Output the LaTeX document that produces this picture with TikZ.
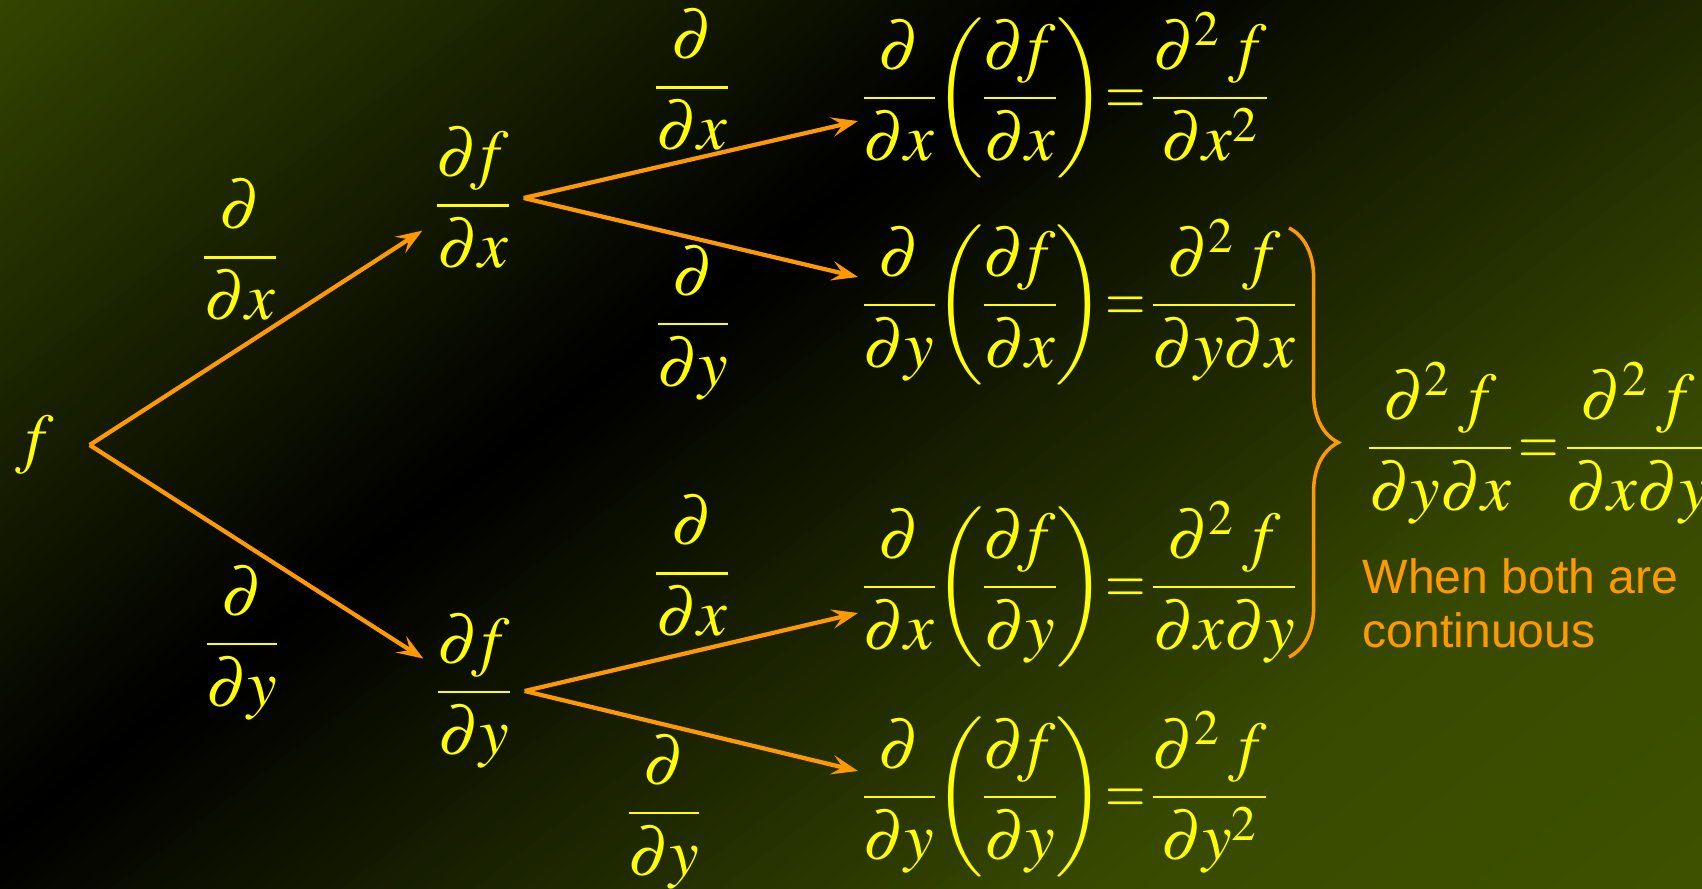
\documentclass[tikz,border=0pt]{standalone}
\usepackage{amsmath}
\usepackage{mathptmx}
\usepackage[no-math]{fontspec}
\newfontfamily\arialfont{Liberation Sans}
\usetikzlibrary{positioning,calc}
\usetikzlibrary{arrows.meta,decorations.pathreplacing}
\definecolor{EqYellow}{RGB}{255,255,0}
\definecolor{ArrOrange}{RGB}{255,153,0}
\definecolor{BgTop}{RGB}{52,70,0}
\definecolor{BgMid}{RGB}{56,74,0}
\definecolor{BgBottom}{RGB}{62,82,0}
\newcommand{\eqsetup}{\nulldelimiterspace=0pt\relax\thickmuskip=2mu\relax}
\newcommand{\eqs}{\mathrel{\scalebox{0.78}[1]{$=$}}}
\newcommand{\pdd}[1]{\dfrac{\partial}{\partial #1}}
\newcommand{\pdf}[1]{\dfrac{\partial\! f}{\partial #1}}
\newcommand{\pdtwo}[1]{\dfrac{\partial^2\mkern2mu f}{#1}}
\tikzset{
	eq/.style={text=EqYellow,font=\fontsize{19}{23}\selectfont\eqsetup,inner sep=0pt},
	tnode/.style={eq,minimum width=1.0cm,minimum height=1.5cm},
	arr/.style={draw=ArrOrange,line width=1.2pt,-{Stealth[length=7.5pt,width=5.5pt,inset=3pt]}},
	brc/.style={draw=ArrOrange,line width=1pt,decorate,decoration={brace,amplitude=14pt}},
}

\begin{document}
\begin{tikzpicture}
	\useasboundingbox (0,0) rectangle (17.02,-8.88);
	% background, dark band across the diagonal
	\begin{scope}
		\clip (0,0) rectangle (17.02,-8.88);
		\begin{scope}[shift={(0,-8.4)},rotate=37.4]
			\foreach \d in {0,0.1,...,7}{
				\pgfmathsetmacro\p{min(100,100*\d/7)}
				\fill[BgMid!\p!black] (-4,-\d+0.04) -- (22,-\d+0.04) -- (22,-\d-0.12) -- (-4,-\d-0.12) -- cycle;
			}
			\foreach \d in {7,7.1,...,11}{
				\pgfmathsetmacro\p{min(100,100*(\d-7)/4)}
				\fill[BgBottom!\p!BgMid] (-4,-\d) -- (22,-\d) -- (22,-\d-0.12) -- (-4,-\d-0.12) -- cycle;
			}
			\foreach \d in {0,0.1,...,6.7}{
				\pgfmathsetmacro\p{min(100,100*\d/6.7)}
				\fill[BgTop!\p!black] (-4,\d) -- (22,\d) -- (22,\d+0.12) -- (-4,\d+0.12) -- cycle;
			}
		\end{scope}
	\end{scope}

	% tree
	\node[eq,minimum width=1.08cm] (f) at (0.35,-4.45) {$f$};
	\node[tnode] (fx) at (4.73,-1.98) {$\pdf{x}$};
	\node[tnode] (fy) at (4.74,-6.91) {$\pdf{y}$};

	\node[eq] (dx1) at (2.40,-2.50) {$\pdd{x}$};
	\node[eq] (dy1) at (2.42,-6.43) {$\pdd{y}$};
	\node[eq] (dx2) at (6.92,-0.80) {$\pdd{x}$};
	\node[eq] (dy2) at (6.93,-3.23) {$\pdd{y}$};
	\node[eq] (dx3) at (6.92,-5.66) {$\pdd{x}$};
	\node[eq] (dy3) at (6.64,-8.12) {$\pdd{y}$};

	\node[eq,anchor=west] (exx) at (8.63,-0.95) {$\pdd{x}\!\left(\pdf{x}\right)\!\eqs\pdtwo{\partial x^2}$};
	\node[eq,anchor=west] (eyx) at (8.63,-3.02) {$\pdd{y}\!\left(\pdf{x}\right)\!\eqs\pdtwo{\partial y\partial x}$};
	\node[eq,anchor=west] (exy) at (8.63,-5.84) {$\pdd{x}\!\left(\pdf{y}\right)\!\eqs\pdtwo{\partial x\partial y}$};
	\node[eq,anchor=west] (eyy) at (8.63,-7.94) {$\pdd{y}\!\left(\pdf{y}\right)\!\eqs\pdtwo{\partial y^2}$};

	\draw[arr] (f.east) -- (fx);
	\draw[arr] (f.east) -- (fy);
	\draw[arr] (fx.east) -- ([xshift=-0.05cm,yshift=-0.26cm]exx.west);
	\draw[arr] (fx.east) -- ([xshift=-0.05cm,yshift=0.25cm]eyx.west);
	\draw[arr] (fy.east) -- ([xshift=-0.05cm,yshift=-0.29cm]exy.west);
	\draw[arr] (fy.east) -- ([xshift=-0.05cm,yshift=0.23cm]eyy.west);

	% mixed partials agree
	\coordinate (btop) at (12.89,-2.28);
	\coordinate (bbot) at (12.89,-6.57);
	\draw[brc] (btop) -- (bbot);
	\node[eq] (sym) at (15.39,-4.43) {$\pdtwo{\partial y\partial x}\eqs\pdtwo{\partial x\partial y}$};
	\node[text=ArrOrange,font=\arialfont\fontsize{13.7}{15.2}\selectfont,align=left,anchor=north west,inner sep=0pt] (cont) at (13.62,-5.58) {When both are\\continuous};
\end{tikzpicture}
\end{document}
